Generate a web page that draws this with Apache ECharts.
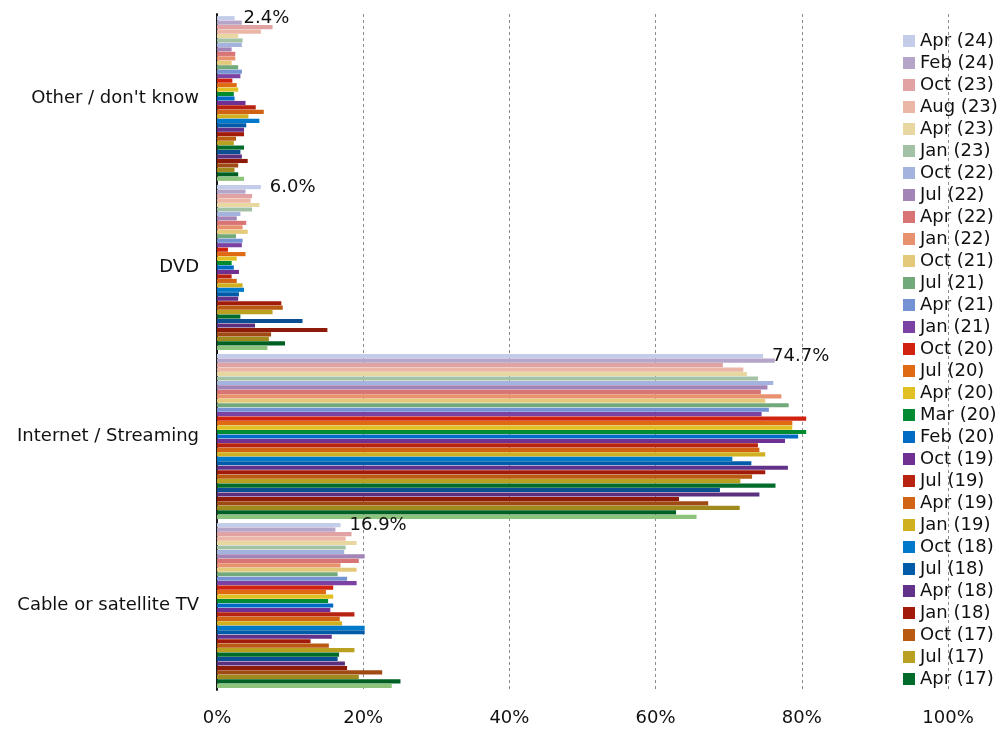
<!DOCTYPE html>
<html>
<head>
<meta charset="utf-8">
<title>Viewing platforms</title>
<script src="https://cdn.jsdelivr.net/npm/echarts@6/dist/echarts.min.js"></script>
<style>
  html, body { margin: 0; padding: 0; background: #ffffff; }
  #chart { width: 1003px; height: 736px; }
</style>
</head>
<body>
<div id="chart"></div>
<script>
// Categories, top to bottom
const categories = ['Other / don\'t know', 'DVD', 'Internet / Streaming', 'Cable or satellite TV'];

// Survey waves, newest first
const waveNames = [
  'Apr (24)', 'Feb (24)', 'Oct (23)', 'Aug (23)', 'Apr (23)', 'Jan (23)', 'Oct (22)', 'Jul (22)',
  'Apr (22)', 'Jan (22)', 'Oct (21)', 'Jul (21)', 'Apr (21)', 'Jan (21)', 'Oct (20)', 'Jul (20)',
  'Apr (20)', 'Mar (20)', 'Feb (20)', 'Oct (19)', 'Jul (19)', 'Apr (19)', 'Jan (19)', 'Oct (18)',
  'Jul (18)', 'Apr (18)', 'Jan (18)', 'Oct (17)', 'Jul (17)', 'Apr (17)',
  'Jan (17)', 'Oct (16)', 'Jul (16)', 'Apr (16)', 'Jan (16)', 'Oct (15)', 'Jul (15)'
];

// Waves listed in the legend
const legendWaves = waveNames.slice(0, 30);

// Share of respondents (%) per wave, one array per category
const otherValues = [2.4, 3.4, 7.6, 6.0, 2.9, 3.5, 3.4, 2.0, 2.5, 2.5, 2.0, 2.9, 3.4, 3.2, 2.1, 2.7, 2.9, 2.3, 2.4, 3.9,
  5.3, 6.4, 4.3, 5.8, 4.0, 3.7, 3.7, 2.6, 2.3, 3.7, 3.2, 3.4, 4.2, 2.9, 2.4, 2.9, 3.7];
const dvdValues = [6.0, 3.9, 4.8, 4.6, 5.8, 4.8, 3.2, 2.7, 4.0, 3.5, 4.2, 2.6, 3.5, 3.4, 1.5, 3.9, 2.7, 2.0, 2.3, 3.0,
  2.0, 2.7, 3.5, 3.7, 3.0, 2.9, 8.8, 9.0, 7.6, 3.2, 11.7, 5.2, 15.1, 7.4, 7.1, 9.3, 6.9];
const internetValues = [74.7, 76.3, 69.2, 72.0, 72.5, 74.0, 76.1, 75.3, 74.4, 77.2, 75.0, 78.2, 75.5, 74.5, 80.6, 78.7,
  78.7, 80.6, 79.5, 77.7, 74.0, 74.2, 75.0, 70.5, 73.1, 78.1, 75.0, 73.2, 71.6, 76.4, 68.8, 74.2, 63.2, 67.2, 71.5, 62.8, 65.6];
const cableValues = [16.9, 16.2, 18.4, 17.6, 19.1, 17.6, 17.4, 20.2, 19.4, 16.9, 19.1, 16.5, 17.8, 19.1, 15.9, 14.9,
  15.9, 15.2, 15.9, 15.5, 18.8, 16.8, 17.1, 20.2, 20.2, 15.7, 12.8, 15.3, 18.8, 16.7, 16.5, 17.5, 17.8, 22.6, 19.4, 25.1, 23.9];

// X axis tick labels
const xTicks = [0, 20, 40, 60, 80, 100];

// Wave colours
const palette = [
  '#c3cde9', '#b5a6c9', '#e0a2a2', '#ecb6a6', '#e9d7a1', '#a3c1a4', '#a3b3de', '#a384b7',
  '#d87474', '#e8916f', '#e4c97a', '#72a97b', '#7592d2', '#7b42a3', '#d0220f', '#e06a12',
  '#e0c022', '#008a32', '#006bc4', '#703092', '#b82210', '#d06414', '#d1b020', '#0079ca',
  '#005ba9', '#62318a', '#a21b0a', '#b95a12', '#b9a020', '#006b2a',
  '#0b4f92', '#5a2f7e', '#8e1a0a', '#a04a14', '#a08a1e', '#005f22', '#8cc47c'
];

const FONT = '"DejaVu Sans", Verdana, sans-serif';
const FONT_SIZE = 18;

const series = waveNames.map((name, i) => ({
  name: name,
  type: 'bar',
  barGap: '8%',
  barCategoryGap: '2.5%',
  itemStyle: { color: palette[i] },
  emphasis: { disabled: true },
  label: i === 0 ? {
    show: true,
    position: 'right',
    distance: 9,
    fontFamily: FONT,
    fontSize: FONT_SIZE,
    color: '#111111',
    formatter: p => p.value.toFixed(1) + '%'
  } : { show: false },
  data: [otherValues[i], dvdValues[i], internetValues[i], cableValues[i]]
}));

const chart = echarts.init(document.getElementById('chart'), null, { renderer: 'canvas' });
chart.setOption({
  backgroundColor: '#ffffff',
  animation: false,
  color: palette,
  grid: { left: 217, right: 55, top: 14, bottom: 46, containLabel: false },
  legend: {
    data: legendWaves,
    orient: 'vertical',
    left: 898,
    top: 27,
    itemWidth: 12,
    itemHeight: 12,
    itemGap: 4,
    icon: 'rect',
    selectedMode: false,
    textStyle: { fontFamily: FONT, fontSize: FONT_SIZE, color: '#111111', lineHeight: 18 }
  },
  xAxis: {
    type: 'value',
    min: xTicks[0],
    max: xTicks[xTicks.length - 1],
    interval: xTicks[1] - xTicks[0],
    axisLine: { show: false },
    axisTick: { show: false },
    axisLabel: {
      margin: 19,
      fontFamily: FONT,
      fontSize: FONT_SIZE,
      color: '#111111',
      formatter: v => v + '%'
    },
    splitLine: {
      show: true,
      lineStyle: { color: '#8c8c8c', width: 1, type: [3, 3] }
    }
  },
  yAxis: {
    type: 'category',
    data: categories,
    inverse: true,
    axisLine: { show: true, lineStyle: { color: '#1a1a1a', width: 2 } },
    axisTick: { show: false },
    axisLabel: {
      margin: 18,
      fontFamily: FONT,
      fontSize: FONT_SIZE,
      color: '#111111'
    },
    splitLine: { show: false }
  },
  series: series
});
</script>
</body>
</html>
